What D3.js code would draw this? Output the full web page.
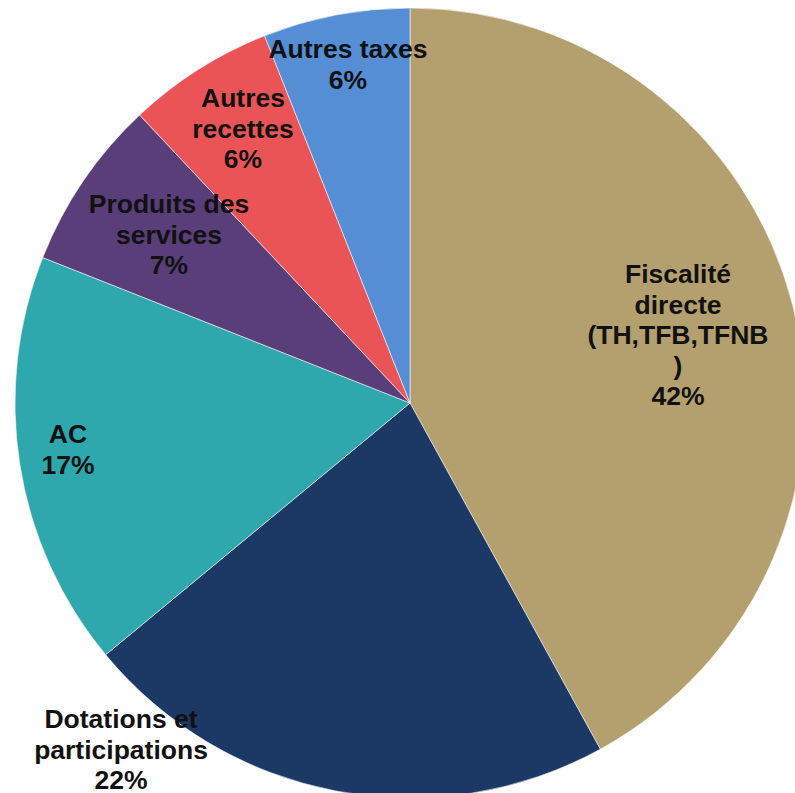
<!DOCTYPE html>
<html>
<head>
<meta charset="utf-8">
<script src="https://cdn.jsdelivr.net/npm/d3@7"></script>
<style>
  html, body { margin: 0; padding: 0; background: #fff; }
  svg { display: block; }
</style>
</head>
<body>
<svg id="chart" width="795" height="793"></svg>
<script>
// Revenue breakdown (share of total, %)
const categories = [
  "Fiscalité directe (TH,TFB,TFNB )",
  "Dotations et participations",
  "AC",
  "Produits des services",
  "Autres recettes",
  "Autres taxes"
];
const values = [42, 22, 17, 7, 6, 6];
const colors = ["#B4A06E", "#1C3864", "#2EA7AD", "#593E7A", "#EB5456", "#558ED5"];

// Label text lines for each slice (category wrapped + percentage)
const labelLines = [
  ["Fiscalité", "directe", "(TH,TFB,TFNB", ")"],
  ["Dotations et", "participations"],
  ["AC"],
  ["Produits des", "services"],
  ["Autres", "recettes"],
  ["Autres taxes"]
];
// Label anchors: x centre and first-line baseline, relative to the pie centre
const labelAnchor = [
  [268, -120],
  [-289, 325],
  [-342, 40],
  [-241, -190],
  [-167, -296],
  [-62, -345]
];

const width = 795, height = 793;
const cx = 410, cy = 403, radius = 395;
const lineHeight = 30.5;

const svg = d3.select("#chart");
const g = svg.append("g").attr("transform", `translate(${cx},${cy})`);

const pie = d3.pie().sort(null).value(d => d)
  .startAngle(0).endAngle(2 * Math.PI);
const arcs = pie(values);
const arc = d3.arc().innerRadius(0).outerRadius(radius);

g.selectAll("path.slice")
  .data(arcs)
  .join("path")
  .attr("class", "slice")
  .attr("d", arc)
  .attr("fill", (d, i) => colors[i])
  .attr("stroke", "rgba(255,255,255,0.55)")
  .attr("stroke-width", 1);

const fmt = v => `${v}%`;

const labels = g.selectAll("text.label")
  .data(arcs)
  .join("text")
  .attr("class", "label")
  .attr("text-anchor", "middle")
  .attr("font-family", "Liberation Sans, Arial, sans-serif")
  .attr("font-weight", "bold")
  .attr("font-size", "26.5px")
  .attr("fill", "#111");

labels.each(function (d, i) {
  const t = d3.select(this);
  const [ax, ay] = labelAnchor[i];
  const lines = labelLines[i].concat([fmt(d.data)]);
  lines.forEach((ln, k) => {
    t.append("tspan")
      .attr("x", ax)
      .attr("y", ay + k * lineHeight)
      .text(ln);
  });
});
</script>
</body>
</html>
